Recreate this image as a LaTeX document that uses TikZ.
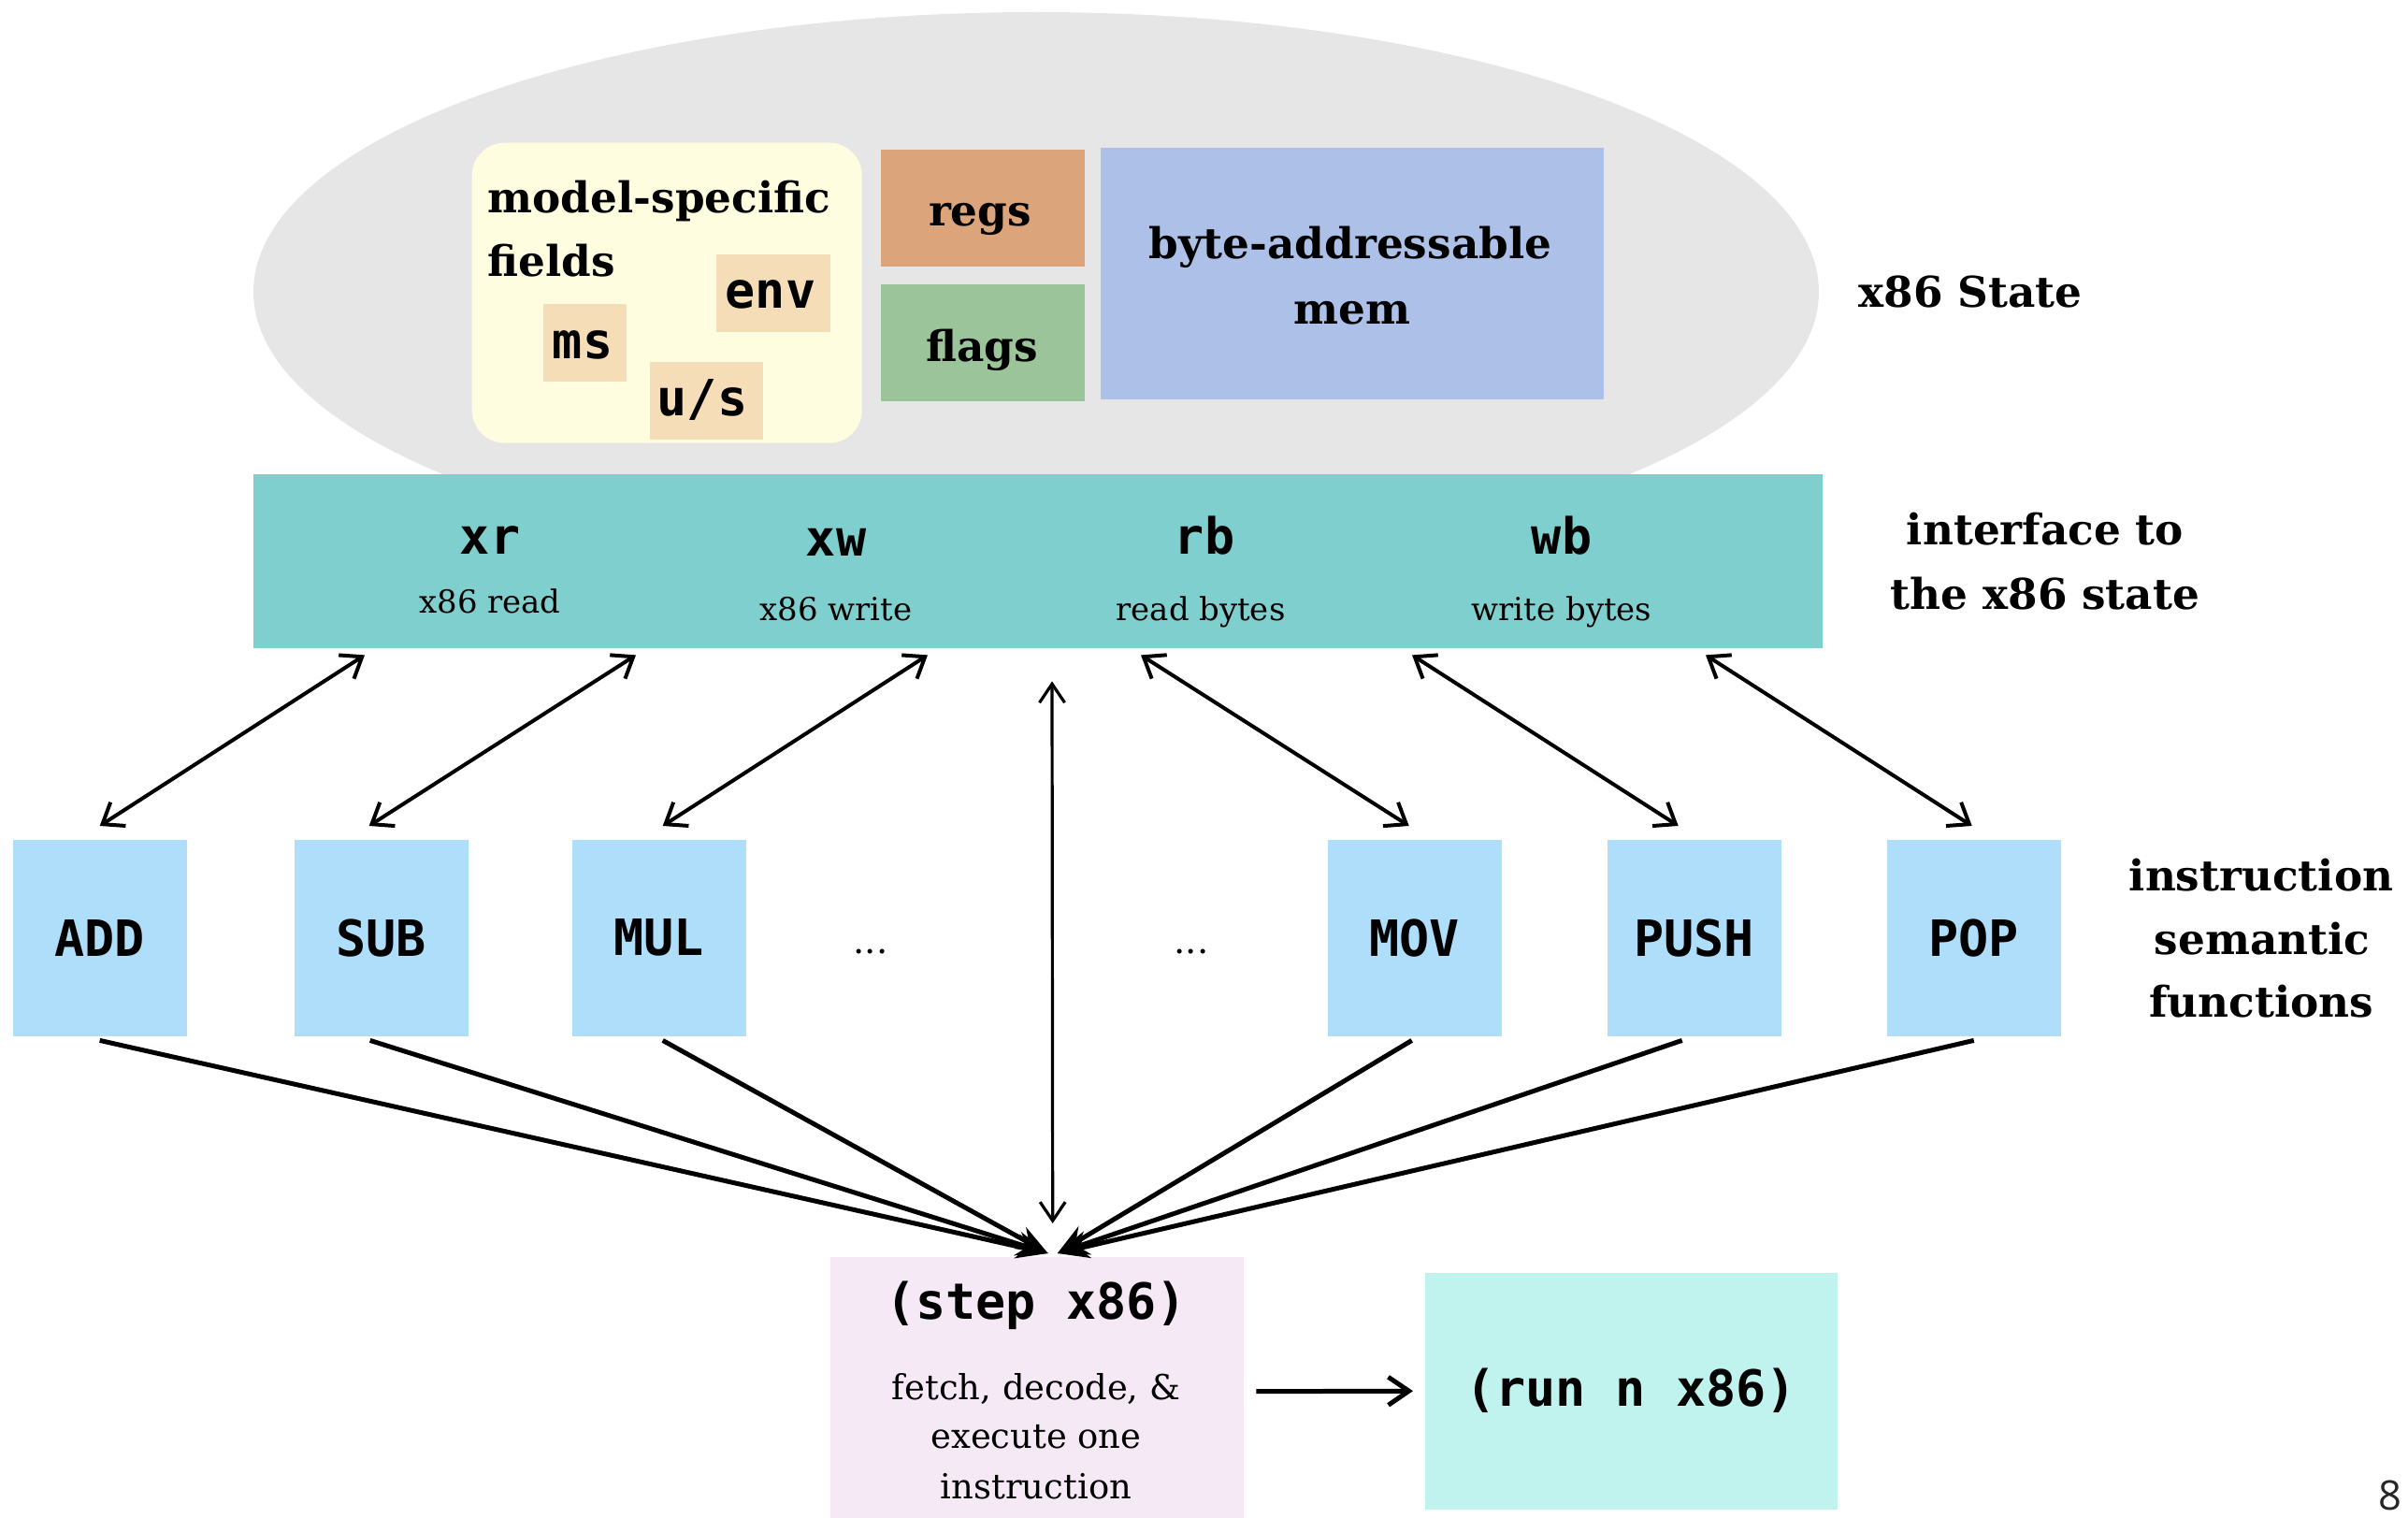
\documentclass[tikz,border=0pt]{standalone}
\usepackage{fontspec}
\setmainfont{DejaVu Serif}
\setmonofont{DejaVu Sans Mono}
\newfontfamily\pagefont{Open Sans}
\usetikzlibrary{arrows.meta,calc,shapes.geometric}

\definecolor{stategray}{HTML}{E6E6E6}
\definecolor{msfill}{HTML}{FFFDE0}
\definecolor{chipfill}{HTML}{F5DDB7}
\definecolor{regsfill}{HTML}{DBA47B}
\definecolor{flagsfill}{HTML}{9CC49A}
\definecolor{memfill}{HTML}{ADC1E8}
\definecolor{barfill}{HTML}{7FCFCE}
\definecolor{insfill}{HTML}{AEDEFA}
\definecolor{stepfill}{HTML}{F5E9F5}
\definecolor{runfill}{HTML}{C1F3EE}

\tikzset{
  blk/.style={draw=none, inner sep=0pt, anchor=north west},
  lbl/.style={font=\fontsize{12.9}{19.5}\selectfont\bfseries, inner sep=0pt, anchor=base},
  code/.style={font=\fontsize{15.2}{17}\selectfont\ttfamily\bfseries, inner sep=0pt},
  codetext/.style={code, anchor=base},
  desc/.style={font=\fontsize{9.65}{12}\selectfont, inner sep=0pt, anchor=base},
  stepdesc/.style={font=\fontsize{10.5}{15}\selectfont, inner sep=0pt, anchor=base},
  ins/.style={blk, fill=insfill, minimum width=1.86cm, minimum height=2.10cm, code},
  dbl/.style={{Straight Barb[length=0.2cm,width=0.3cm]}-{Straight Barb[length=0.2cm,width=0.3cm]}, line width=0.04cm},
  thin dbl/.style={{Straight Barb[length=0.2cm,width=0.27cm]}-{Straight Barb[length=0.2cm,width=0.27cm]}, line width=0.032cm},
  feed/.style={-{Stealth[length=0.34cm,width=0.26cm]}, line width=0.05cm},
  next/.style={-{Straight Barb[length=0.22cm,width=0.3cm]}, line width=0.05cm},
}

\begin{document}
\begin{tikzpicture}
\useasboundingbox (0,0) rectangle (25.75,-16.23);

% the x86 state
\node[ellipse, fill=stategray, inner sep=0pt, minimum width=16.74cm, minimum height=5.98cm] (state) at (11.08,-3.12) {};

\node[blk, fill=msfill, rounded corners=0.35cm, minimum width=4.17cm, minimum height=3.21cm] (msf) at (5.04,-1.52) {};
\node[lbl, anchor=base west] (msf1) at (5.21,-2.28) {model-specific};
\node[lbl, anchor=base west] (msf2) at (5.21,-2.96) {fields};

\node[blk, fill=chipfill, minimum width=1.22cm, minimum height=0.83cm] (env) at (7.65,-2.71) {};
\node[codetext] (envt) at (8.24,-3.30) {env};
\node[blk, fill=chipfill, minimum width=0.89cm, minimum height=0.83cm] (ms) at (5.80,-3.24) {};
\node[codetext] (mst) at (6.23,-3.84) {ms};
\node[blk, fill=chipfill, minimum width=1.21cm, minimum height=0.83cm] (us) at (6.94,-3.86) {};
\node[codetext] (ust) at (7.51,-4.45) {u/s};

\node[blk, fill=regsfill, minimum width=2.18cm, minimum height=1.25cm] (regs) at (9.41,-1.59) {};
\node[lbl] (regst) at (10.48,-2.42) {regs};
\node[blk, fill=flagsfill, minimum width=2.18cm, minimum height=1.25cm] (flags) at (9.41,-3.03) {};
\node[lbl] (flagst) at (10.50,-3.87) {flags};
\node[blk, fill=memfill, minimum width=5.38cm, minimum height=2.69cm] (mem) at (11.76,-1.57) {};
\node[lbl] (mem1) at (14.44,-2.77) {byte-addressable};
\node[lbl] (mem2) at (14.46,-3.47) {mem};

\node[lbl] (statelbl) at (21.07,-3.29) {x86 State};

% interface bar
\node[blk, fill=barfill, minimum width=16.78cm, minimum height=1.86cm] (bar) at (2.70,-5.06) {};
\node[codetext] (xr) at (5.24,-5.93) {xr};
\node[desc] (xrd) at (5.24,-6.56) {x86 read};
\node[codetext] (xw) at (8.94,-5.95) {xw};
\node[desc] (xwd) at (8.94,-6.64) {x86 write};
\node[codetext] (rb) at (12.88,-5.93) {rb};
\node[desc] (rbd) at (12.84,-6.64) {read bytes};
\node[codetext] (wb) at (16.70,-5.93) {wb};
\node[desc] (wbd) at (16.70,-6.64) {write bytes};

\node[lbl] (if1) at (21.87,-5.83) {interface to};
\node[lbl] (if2) at (21.87,-6.52) {the x86 state};

% instruction semantic functions
\node[ins] (add)  at (0.13,-8.97)  {ADD};
\node[ins] (sub)  at (3.14,-8.97)  {SUB};
\node[ins] (mul)  at (6.11,-8.97)  {MUL};
\node[ins] (mov)  at (14.19,-8.97) {MOV};
\node[ins] (push) at (17.18,-8.97) {PUSH};
\node[ins] (pop)  at (20.17,-8.97) {POP};
\node[stepdesc, font=\fontsize{11}{15}\selectfont] (dotsl) at (9.31,-10.19) {...};
\node[stepdesc, font=\fontsize{11}{15}\selectfont] (dotsr) at (12.74,-10.19) {...};

\node[lbl] (isf1) at (24.18,-9.52) {instruction};
\node[lbl] (isf2) at (24.19,-10.20) {semantic};
\node[lbl] (isf3) at (24.18,-10.87) {functions};

% step and run
\node[blk, fill=stepfill, minimum width=4.42cm, minimum height=2.80cm] (step) at (8.87,-13.43) {};
\node[codetext] (stept) at (11.08,-14.10) {(step x86)};
\node[stepdesc] (stepd1) at (11.08,-14.96) {fetch, decode, \&};
\node[stepdesc] (stepd2) at (11.08,-15.48) {execute one};
\node[stepdesc] (stepd3) at (11.08,-16.02) {instruction};

\node[blk, fill=runfill, minimum width=4.41cm, minimum height=2.53cm] (run) at (15.23,-13.60) {};
\node[codetext] (runt) at (17.44,-15.03) {(run n x86)};

\node[font=\pagefont\fontsize{12.4}{14}\selectfont, text=black!85, inner sep=0pt, anchor=base] (pagenum) at (25.56,-16.14) {8};

% reads and writes between the interface and the semantic functions
\draw[dbl] ($(bar.south west)+(1.20,-0.07)$)  -- ($(add.north)+(0,0.14)$);
\draw[dbl] ($(bar.south west)+(4.10,-0.07)$)  -- ($(sub.north)+(-0.13,0.14)$);
\draw[dbl] ($(bar.south west)+(7.22,-0.07)$)  -- ($(mul.north)+(0.04,0.14)$);
\draw[dbl] ($(bar.south west)+(9.50,-0.07)$)  -- ($(mov.north)+(-0.06,0.14)$);
\draw[dbl] ($(bar.south west)+(12.40,-0.07)$) -- ($(push.north)+(-0.17,0.14)$);
\draw[dbl] ($(bar.south west)+(15.54,-0.07)$) -- ($(pop.north)+(-0.02,0.14)$);
\draw[thin dbl] ($(bar.south west)+(8.55,-0.35)$) -- ($(step.north)+(0.17,0.35)$);

% dispatch from step to the semantic functions
\coordinate (tipL) at ($(step.north)+(0.12,0.03)$);
\coordinate (tipR) at ($(step.north)+(0.22,0.03)$);
\draw[feed] ($(add.south)+(0,-0.04)$)      -- (tipL);
\draw[feed] ($(sub.south)+(-0.12,-0.04)$)  -- (tipL);
\draw[feed] ($(mul.south)+(0.04,-0.04)$)   -- (tipL);
\draw[feed] ($(mov.south)+(-0.03,-0.04)$)  -- (tipR);
\draw[feed] ($(push.south)+(-0.13,-0.04)$) -- (tipR);
\draw[feed] ($(pop.south)+(0,-0.04)$)      -- (tipR);

% step iterates into run
\draw[next] ($(step.east)+(0.13,-0.04)$) -- ($(run.west)+(-0.12,0)$);
\end{tikzpicture}
\end{document}
